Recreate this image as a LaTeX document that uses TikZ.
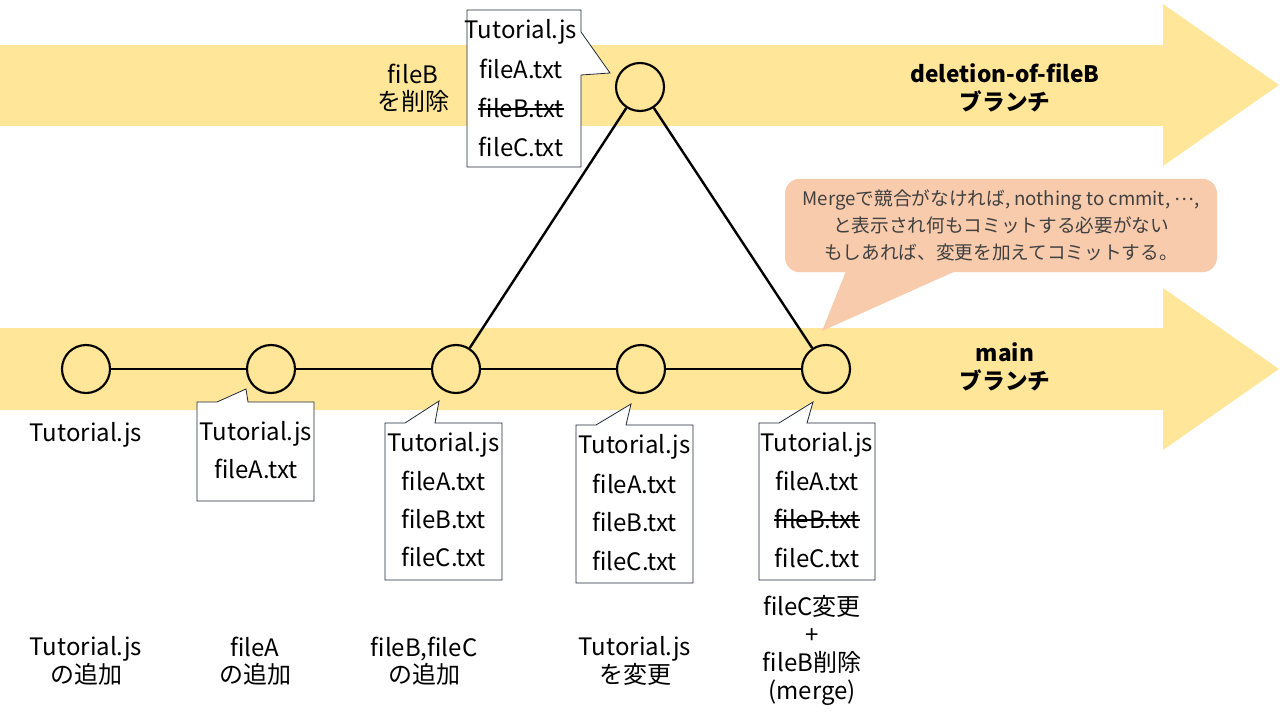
\documentclass[tikz,border=0pt]{standalone}
\usepackage{fontspec}
\setmainfont{Noto Sans CJK JP}
\definecolor{bandcol}{HTML}{FFE699}
\definecolor{bubblefill}{HTML}{F8CBAD}
\definecolor{bubbletext}{HTML}{404040}
\definecolor{callline}{HTML}{1F2A3A}
\begin{document}
\begin{tikzpicture}[x=0.75pt,y=-0.75pt,
  commit/.style={circle,draw=black,line width=1.6pt,minimum size=36pt,inner sep=0pt},
  branchline/.style={line width=1.8pt},
  callout/.style={draw=callline,line width=0.6pt,fill=white},
  fl/.style={font=\fontsize{18}{20}\selectfont,inner sep=0pt,text height=13pt,text depth=0pt},
  strike/.style={line width=0.9pt},
  lbl/.style={font=\fontsize{18}{20.5}\selectfont,align=center,inner sep=0pt},
  branchname/.style={font=\bfseries\fontsize{17}{20.5}\selectfont,align=center,inner sep=0pt},
  bubble/.style={fill=bubblefill,rounded corners=11pt,minimum width=324pt,minimum height=70pt,
    text=bubbletext,font=\fontsize{14}{20}\selectfont,align=center,inner sep=0pt},
]
\useasboundingbox (0,0) rectangle (1280,720);
% branch bands
\fill[bandcol] (0,45) -- (1163,45) -- (1163,4) -- (1279,85) -- (1163,166) -- (1163,126) -- (0,126) -- cycle;
\fill[bandcol] (0,328) -- (1163,328) -- (1163,288) -- (1279,369) -- (1163,450) -- (1163,410) -- (0,410) -- cycle;
% commits
\node[commit] (m1) at (86,369) {};
\node[commit] (m2) at (271,369) {};
\node[commit] (m3) at (456,369) {};
\node[commit] (m4) at (641,369) {};
\node[commit] (m5) at (826,369) {};
\node[commit] (d1) at (640,87) {};
\draw[branchline] (m1) -- (m2) -- (m3) -- (m4) -- (m5);
\draw[branchline] (m3) -- (d1) -- (m5);
% callout on branch commit
\draw[callout] (467,10) -- (581,10) -- (581,32) -- (610,73) -- (581,75) -- (581,167) -- (467,167) -- cycle;
\node[fl] (d1a) at (521,30) {Tutorial.js};
\node[fl] (d1b) at (521,70) {fileA.txt};
\node[fl] (d1c) at (521,109) {fileB.txt};
\node[fl] (d1d) at (521,148) {fileC.txt};
\draw[strike] (d1c.west) -- (d1c.east);
% callout m2
\draw[callout] (197,402) -- (217,402) -- (246,389) -- (248,402) -- (314,402) -- (314,501) -- (197,501) -- cycle;
\node[fl] (m2a) at (256,432) {Tutorial.js};
\node[fl] (m2b) at (256,470) {fileA.txt};
% callout m3
\draw[callout] (385,423) -- (405,423) -- (439,401) -- (435,423) -- (502,423) -- (502,580) -- (385,580) -- cycle;
\node[fl] (m3a) at (443.5,443) {Tutorial.js};
\node[fl] (m3b) at (443.5,482) {fileA.txt};
\node[fl] (m3c) at (443.5,520) {fileB.txt};
\node[fl] (m3d) at (443.5,558) {fileC.txt};
% callout m4
\draw[callout] (576,425) -- (596,425) -- (631,404) -- (626,425) -- (693,425) -- (693,583) -- (576,583) -- cycle;
\node[fl] (m4a) at (634.5,445) {Tutorial.js};
\node[fl] (m4b) at (634.5,485) {fileA.txt};
\node[fl] (m4c) at (634.5,523) {fileB.txt};
\node[fl] (m4d) at (634.5,562) {fileC.txt};
% callout m5
\draw[callout] (759,423) -- (779,423) -- (813,402) -- (807,423) -- (875,423) -- (875,580) -- (759,580) -- cycle;
\node[fl] (m5a) at (817,443) {Tutorial.js};
\node[fl] (m5b) at (817,482) {fileA.txt};
\node[fl] (m5c) at (817,520) {fileB.txt};
\node[fl] (m5d) at (817,559) {fileC.txt};
\draw[strike] (m5c.west) -- (m5c.east);
\node[fl] (m1a) at (86,433) {Tutorial.js};
% speech bubble
\fill[bubblefill] (848,266) -- (822,331) -- (967,266) -- cycle;
\node[bubble] (note) at (1001,225.5) {Mergeで競合がなければ, nothing to cmmit, \raisebox{0.3em}{…},\\と表示され何もコミットする必要がない\\もしあれば、変更を加えてコミットする。};
% labels
\node[lbl] (delb) at (413,88) {fileB\\を削除};
\node[branchname] (bn1) at (1005,88) {deletion-of-fileB\\ブランチ};
\node[branchname] (bn2) at (1005,367) {main\\ブランチ};
\node[lbl] (c1) at (86,661) {Tutorial.js\\の追加};
\node[lbl] (c2) at (255,661) {fileA\\の追加};
\node[lbl] (c3) at (424,661) {fileB,fileC\\の追加};
\node[lbl] (c4) at (635,661) {Tutorial.js\\を変更};
\node[lbl,font=\fontsize{18}{21}\selectfont] (c5) at (812,650) {fileC変更\\+\\fileB削除\\(merge)};
\end{tikzpicture}
\end{document}
